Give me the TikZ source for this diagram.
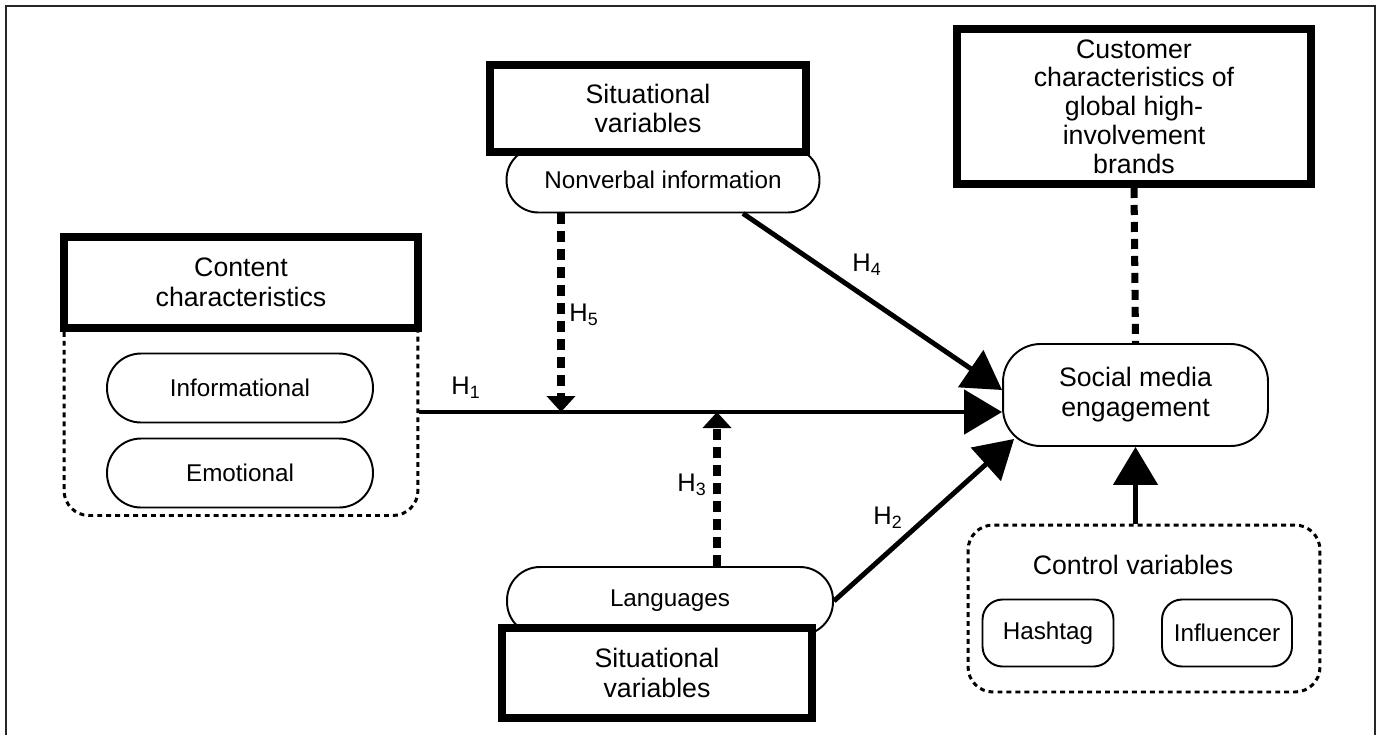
\documentclass[tikz,border=0pt]{standalone}
\usepackage{fontspec}
\setmainfont{Liberation Sans}
\usetikzlibrary{arrows.meta,positioning}
\newcommand{\boxfont}{\fontsize{15.2}{17}\selectfont}
\newcommand{\pillfont}{\fontsize{13.8}{15.5}\selectfont}
\tikzset{
  every node/.style={text=black},
  frame/.style={draw=black!85,line width=1.1pt},
  thickbox/.style={draw,line width=0.16cm,fill=white,align=center,font=\boxfont,inner sep=2pt},
  pill/.style={draw,line width=1.1pt,rounded corners=0.64cm,minimum height=1.3cm,fill=white,font=\pillfont,inner sep=2pt},
  smallpill/.style={draw,line width=1.1pt,rounded corners=0.4cm,minimum height=1.34cm,fill=white,font=\pillfont,inner sep=2pt},
  engage/.style={draw,line width=1.1pt,rounded corners=0.75cm,minimum width=5.3cm,minimum height=2.04cm,fill=white,align=center,font=\boxfont},
  group/.style={draw,line width=1.7pt,dash pattern=on 2.8pt off 2.3pt,rounded corners=0.5cm},
  link/.style={-{Triangle[length=0.76cm,width=0.88cm]},line width=2.8pt},
  modarrow/.style={-{Triangle[length=0.32cm,width=0.56cm]},line width=4pt,dash pattern=on 0.22cm off 0.14cm},
  tie/.style={line width=4pt,dash pattern=on 0.2cm off 0.14cm},
  hlabel/.style={font=\fontsize{14.5}{16}\selectfont,inner sep=1pt},
}

\begin{document}
\begin{tikzpicture}[x=0.02cm,y=-0.02cm]
\useasboundingbox (0,0) rectangle (1378,735);
\draw[frame] (6,735) -- (6,6) -- (1375,6) -- (1375,735);

% content characteristics
\node[group,minimum width=7.08cm,minimum height=4.3cm] (contentgrp) at (241,408) {};
\node[thickbox,minimum width=7.08cm,minimum height=1.82cm] (content) at (241,282.5) {Content\\characteristics};
\node[pill,minimum width=5.32cm,minimum height=1.38cm,rounded corners=0.68cm] (info) at (240,388) {Informational};
\node[pill,minimum width=5.32cm,minimum height=1.38cm,rounded corners=0.68cm] (emo) at (240,473) {Emotional};

% situational variables, top and bottom
\node[pill,minimum width=6.26cm] (nonverbal) at (663,180) {Nonverbal information};
\node[thickbox,minimum width=6.32cm,minimum height=1.74cm] (sitTop) at (648,108.5) {Situational\\variables};
\node[pill,minimum width=6.52cm,minimum height=1.36cm,rounded corners=0.66cm] (lang) at (670,601) {Languages};
\node[thickbox,minimum width=6.2cm,minimum height=1.8cm] (sitBot) at (657,673) {Situational\\variables};

% customer and engagement
\node[thickbox,minimum width=7.08cm,minimum height=3.1cm,font=\fontsize{15.2}{16.4}\selectfont] (customer) at (1134,106.5)
  {Customer\\characteristics of\\global high-\\involvement\\brands};
\node[engage] (social) at (1135.5,395) {Social media\\engagement};

% control variables
\node[group,minimum width=7.04cm,minimum height=3.34cm] (control) at (1144,608.5) {};
\node[font=\boxfont] (ctrltitle) at (1133,565) {Control variables};
\node[smallpill,minimum width=2.62cm] (hashtag) at (1048,633) {Hashtag};
\node[smallpill,minimum width=2.6cm] (influencer) at (1227,633) {Influencer};

\coordinate (m5) at (561,412);
\coordinate (m3) at (717,412);

\draw[link] (contentgrp.east |- m5) -- (social.west |- m5);
\draw[link] ([xshift=1.6cm]nonverbal.south) -- ([yshift=0.1cm]social.west);
\draw[link] (lang.east) -- ([xshift=0.24cm,yshift=0.16cm]social.south west);
\draw[modarrow] (nonverbal.south -| m5) -- (m5);
\draw[modarrow] (lang.north -| m3) -- (m3);
\draw[tie] (customer.south) -- (social.north);
\draw[link] (social.south |- control.north) -- (social.south);

\node[hlabel] (lab1) at (466,388) {H\textsubscript{1}};
\node[hlabel] (lab2) at (888,518) {H\textsubscript{2}};
\node[hlabel] (lab3) at (692,485) {H\textsubscript{3}};
\node[hlabel] (lab4) at (867,265) {H\textsubscript{4}};
\node[hlabel] (lab5) at (584,315) {H\textsubscript{5}};

\end{tikzpicture}
\end{document}
